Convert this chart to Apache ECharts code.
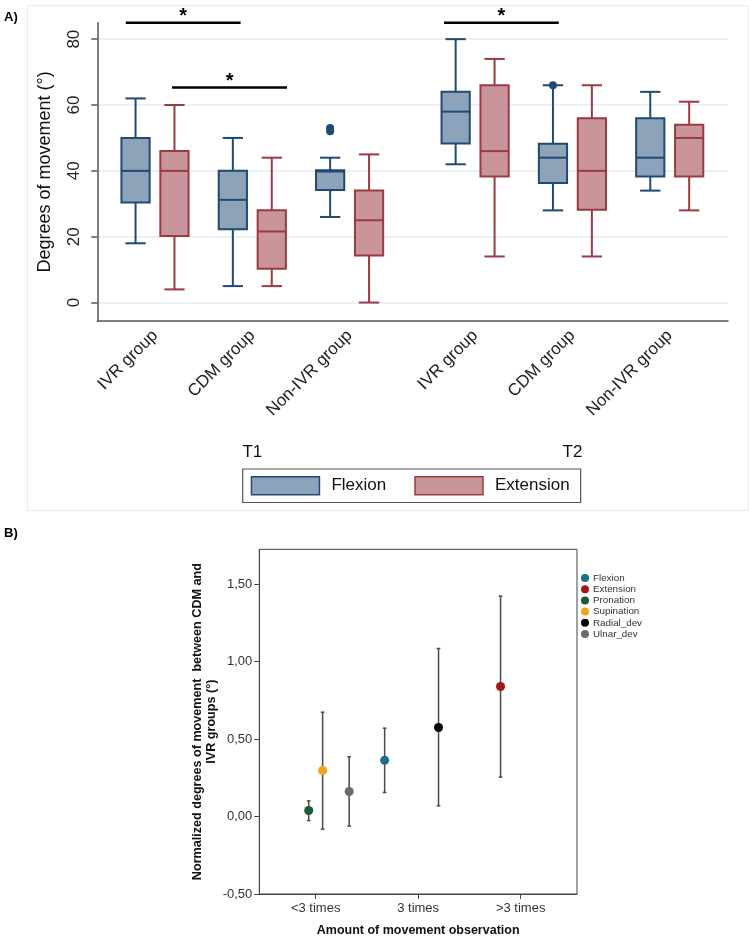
<!DOCTYPE html>
<html><head><meta charset="utf-8">
<script src="https://cdn.jsdelivr.net/npm/echarts@6/dist/echarts.min.js"></script>
<style>html,body{margin:0;padding:0;background:#fff}#c{width:749px;height:938px}</style>
</head><body><div id="c"></div>
<script>
// ---------- Panel A data ----------
const groupLabels = ['IVR group', 'CDM group', 'Non-IVR group', 'IVR group', 'CDM group', 'Non-IVR group'];
const timeLabels = ['T1', 'T2'];
// [min, Q1, median, Q3, max]
const flexionStats = [[18, 30.4, 40, 50, 62], [5, 22.3, 31.2, 40, 50], [26, 34.2, 39.8, 40.2, 44], [42, 48.3, 58, 64, 80], [28, 36.3, 44, 48.2, 66], [34, 38.3, 44, 56, 64]];
const extensionStats = [[4, 20.2, 40, 46, 60], [5, 10.3, 21.6, 28, 44], [0, 14.3, 25, 34, 45], [14, 38.3, 46, 66, 74], [14, 28.2, 40, 56, 66], [28, 38.3, 50, 54, 61]];
// [group index, value]
const flexionOutliers = [[2, 52], [2, 53], [4, 66]];
// significance bars: [from, to, level] in group-axis units
const sigBars = [[0.70, 1.88, 85], [1.175, 2.357, 65.3], [3.97, 5.15, 85]];
const yTicksA = [0, 20, 40, 60, 80];

// ---------- Panel B data ----------
const obsCategories = ['<3 times', '3 times', '>3 times'];
const movements = ['Flexion', 'Extension', 'Pronation', 'Supination', 'Radial_dev', 'Ulnar_dev'];
const movementX = [1.673, 2.804, 0.932, 1.068, 2.199, 1.327];
const meanVals = [0.363, 0.839, 0.039, 0.297, 0.574, 0.161];
const ciLow = [0.155, 0.254, -0.026, -0.082, 0.069, -0.062];
const ciHigh = [0.570, 1.422, 0.101, 0.673, 1.084, 0.385];
const yTicksB = [-0.5, 0, 0.5, 1, 1.5];

// ---------- layout / style ----------
const groupPos = [1, 2, 3, 4.29, 5.29, 6.29];
const boxOffset = 0.2, boxW = 0.29;
const FONT = 'Liberation Sans, Arial, sans-serif';
const flexFill = '#8DA3BA', flexLine = '#1F4A75';
const extFill = '#C9959B', extLine = '#9A3A43';
const movementColors = ['#1C6E8A', '#A3161A', '#1A5C37', '#F4A21E', '#000000', '#6B6B6B'];

function boxRender(offset, fill, stroke) {
  return function (params, api) {
    const x = api.value(0) + offset;
    const cx = api.coord([x, 0])[0];
    const unit = api.size([1, 0])[0];
    const w = unit * boxW, cap = w * 0.72;
    const y = [1, 2, 3, 4, 5].map(d => api.coord([x, api.value(d)])[1]);
    const ls = { stroke: stroke, lineWidth: 2, fill: null };
    return { type: 'group', children: [
      { type: 'line', shape: { x1: cx, y1: y[4], x2: cx, y2: y[3] }, style: ls },
      { type: 'line', shape: { x1: cx, y1: y[1], x2: cx, y2: y[0] }, style: ls },
      { type: 'line', shape: { x1: cx - cap / 2, y1: y[4], x2: cx + cap / 2, y2: y[4] }, style: ls },
      { type: 'line', shape: { x1: cx - cap / 2, y1: y[0], x2: cx + cap / 2, y2: y[0] }, style: ls },
      { type: 'rect', shape: { x: cx - w / 2, y: y[3], width: w, height: y[1] - y[3] }, style: { fill: fill, stroke: stroke, lineWidth: 2 } },
      { type: 'line', shape: { x1: cx - w / 2, y1: y[2], x2: cx + w / 2, y2: y[2] }, style: ls }
    ]};
  };
}

const chart = echarts.init(document.getElementById('c'), null, { renderer: 'canvas' });

const option = {
  backgroundColor: '#fff',
  animation: false,
  textStyle: { fontFamily: FONT },
  grid: [
    { left: 97.3, right: 21, top: 22.7, bottom: 617 },
    { left: 259.3, right: 172, top: 549.3, bottom: 44, show: true, borderColor: '#444', borderWidth: 1 }
  ],
  xAxis: [
    { gridIndex: 0, type: 'value', min: 0.407, max: 6.889,
      axisLine: { show: true, onZero: false, lineStyle: { color: '#555', width: 1.5 } },
      axisTick: { show: false, customValues: groupPos },
      splitLine: { show: false },
      axisLabel: { customValues: groupPos, rotate: 45, margin: 12, fontSize: 17, color: '#222', fontFamily: FONT,
        formatter: v => { let b = 0; groupPos.forEach((p, i) => { if (Math.abs(p - v) < Math.abs(groupPos[b] - v)) b = i; }); return groupLabels[b]; } }
    },
    { gridIndex: 1, type: 'value', min: 0.45, max: 3.55,
      axisLine: { show: true, onZero: false, lineStyle: { color: '#444', width: 1 } },
      axisTick: { show: true, customValues: [1, 2, 3], length: 5, lineStyle: { color: '#444' } },
      splitLine: { show: false },
      axisLabel: { customValues: [1, 2, 3], margin: 8, fontSize: 13, color: '#333', fontFamily: FONT,
        formatter: v => obsCategories[Math.round(v) - 1] },
      name: 'Amount of movement observation', nameLocation: 'middle', nameGap: 30,
      nameTextStyle: { fontSize: 12.5, fontWeight: 'bold', color: '#111', fontFamily: FONT }
    }
  ],
  yAxis: [
    { gridIndex: 0, type: 'value', min: -5.6, max: 85,
      axisLine: { show: true, onZero: false, lineStyle: { color: '#555', width: 1.5 } },
      axisTick: { show: true, customValues: yTicksA, length: 6, lineStyle: { color: '#555', width: 1.5 } },
      splitLine: { show: true, lineStyle: { color: '#E4ECF0', width: 1.5 } },
      axisLabel: { customValues: yTicksA, rotate: 90, margin: 14, fontSize: 17, color: '#222', fontFamily: FONT },
      name: 'Degrees of movement (°)', nameLocation: 'middle', nameGap: 43,
      nameTextStyle: { fontSize: 18, color: '#111', fontFamily: FONT }
    },
    { gridIndex: 1, type: 'value', min: -0.5, max: 1.724,
      axisLine: { show: true, onZero: false, lineStyle: { color: '#444', width: 1 } },
      axisTick: { show: true, customValues: yTicksB, length: 5, lineStyle: { color: '#444' } },
      splitLine: { show: false },
      axisLabel: { customValues: yTicksB, margin: 7, fontSize: 13, color: '#333', fontFamily: FONT,
        formatter: v => v.toFixed(2).replace('.', ',') },
      name: 'Normalized degrees of movement  between CDM and\nIVR groups (°)', nameLocation: 'middle', nameGap: 40,
      nameTextStyle: { fontSize: 12.6, fontWeight: 'bold', color: '#111', fontFamily: FONT, lineHeight: 14 }
    }
  ],
  legend: [
    { data: [
        { name: 'Flexion', icon: 'rect', itemStyle: { color: flexFill, borderColor: flexLine, borderWidth: 1.5 } },
        { name: 'Extension', icon: 'rect', itemStyle: { color: extFill, borderColor: extLine, borderWidth: 1.5 } }
      ],
      left: 242.7, top: 469, orient: 'horizontal', itemWidth: 68, itemHeight: 18, itemGap: 28,
      padding: [7, 11, 7, 8], borderColor: '#555', borderWidth: 1.2, backgroundColor: '#fff',
      selectedMode: false,
      textStyle: { fontSize: 17, color: '#111', fontFamily: FONT, padding: [0, 0, 0, 7] }
    },
    { data: movements.map((m, i) => ({ name: m, icon: 'circle', itemStyle: { color: movementColors[i], borderWidth: 0 } })),
      left: 576, top: 568, padding: 5, orient: 'vertical', itemWidth: 8, itemHeight: 8, itemGap: 1.2,
      selectedMode: false,
      textStyle: { fontSize: 9.8, color: '#333', fontFamily: FONT, padding: [0, 0, 0, -1] }
    }
  ],
  series: [
    { name: 'Flexion', type: 'custom', xAxisIndex: 0, yAxisIndex: 0, itemStyle: { color: flexFill },
      renderItem: boxRender(-boxOffset, flexFill, flexLine), encode: { x: 0, y: [1, 2, 3, 4, 5] },
      data: flexionStats.map((s, i) => [groupPos[i]].concat(s)) },
    { name: 'Extension', type: 'custom', xAxisIndex: 0, yAxisIndex: 0, itemStyle: { color: extFill },
      renderItem: boxRender(boxOffset, extFill, extLine), encode: { x: 0, y: [1, 2, 3, 4, 5] },
      data: extensionStats.map((s, i) => [groupPos[i]].concat(s)) },
    { name: 'Flexion outliers', type: 'scatter', xAxisIndex: 0, yAxisIndex: 0, symbolSize: 8,
      itemStyle: { color: flexLine, opacity: 1 },
      data: flexionOutliers.map(o => [groupPos[o[0]] - boxOffset, o[1]]) },
    { name: 'Significance', type: 'custom', xAxisIndex: 0, yAxisIndex: 0, clip: false,
      renderItem: function (params, api) {
        const p0 = api.coord([api.value(0), api.value(2)]);
        const p1 = api.coord([api.value(1), api.value(2)]);
        return { type: 'group', children: [
          { type: 'line', shape: { x1: p0[0], y1: p0[1], x2: p1[0], y2: p1[1] }, style: { stroke: '#000', lineWidth: 2.5 } },
          { type: 'text', style: { text: '*', x: (p0[0] + p1[0]) / 2, y: p0[1] - 6, align: 'center', verticalAlign: 'middle',
            font: 'bold 20px ' + FONT, fill: '#000' } }
        ]};
      },
      encode: { x: [0, 1], y: 2 },
      data: sigBars },
    { name: 'CI', type: 'custom', xAxisIndex: 1, yAxisIndex: 1, z: 2,
      renderItem: function (params, api) {
        const lo = api.coord([api.value(0), api.value(1)]);
        const hi = api.coord([api.value(0), api.value(2)]);
        const st = { stroke: '#4A4A4A', lineWidth: 1.5 };
        return { type: 'group', children: [
          { type: 'line', shape: { x1: lo[0], y1: lo[1], x2: hi[0], y2: hi[1] }, style: st },
          { type: 'line', shape: { x1: lo[0] - 1.8, y1: lo[1], x2: lo[0] + 1.8, y2: lo[1] }, style: st },
          { type: 'line', shape: { x1: hi[0] - 1.8, y1: hi[1], x2: hi[0] + 1.8, y2: hi[1] }, style: st }
        ]};
      },
      encode: { x: 0, y: [1, 2] },
      data: movementX.map((x, i) => [x, ciLow[i], ciHigh[i]]) }
  ].concat(movements.map((m, i) => ({
    name: m, type: 'scatter', xAxisIndex: 1, yAxisIndex: 1, z: 5, symbolSize: 9,
    itemStyle: { color: movementColors[i], opacity: 1 },
    data: [[movementX[i], meanVals[i]]]
  })))
};
chart.setOption(option);

const tx = [groupPos[1], groupPos[4]].map(v => chart.convertToPixel({ xAxisIndex: 0 }, v));
chart.setOption({
  graphic: [
    { type: 'rect', left: 25, top: 3, shape: { width: 721, height: 505 }, style: { fill: null, stroke: '#ECECEC', lineWidth: 1 }, silent: true, z: -1 },
    { type: 'text', left: 4, top: 11, style: { text: 'A)', font: 'bold 13px ' + FONT, fill: '#000' } },
    { type: 'text', left: 4, top: 527, style: { text: 'B)', font: 'bold 13px ' + FONT, fill: '#000' } },
    { type: 'text', x: tx[0], y: 452, style: { text: timeLabels[0], font: '17px ' + FONT, fill: '#111', align: 'center', verticalAlign: 'middle' } },
    { type: 'text', x: tx[1], y: 452, style: { text: timeLabels[1], font: '17px ' + FONT, fill: '#111', align: 'center', verticalAlign: 'middle' } }
  ]
});
</script></body></html>
